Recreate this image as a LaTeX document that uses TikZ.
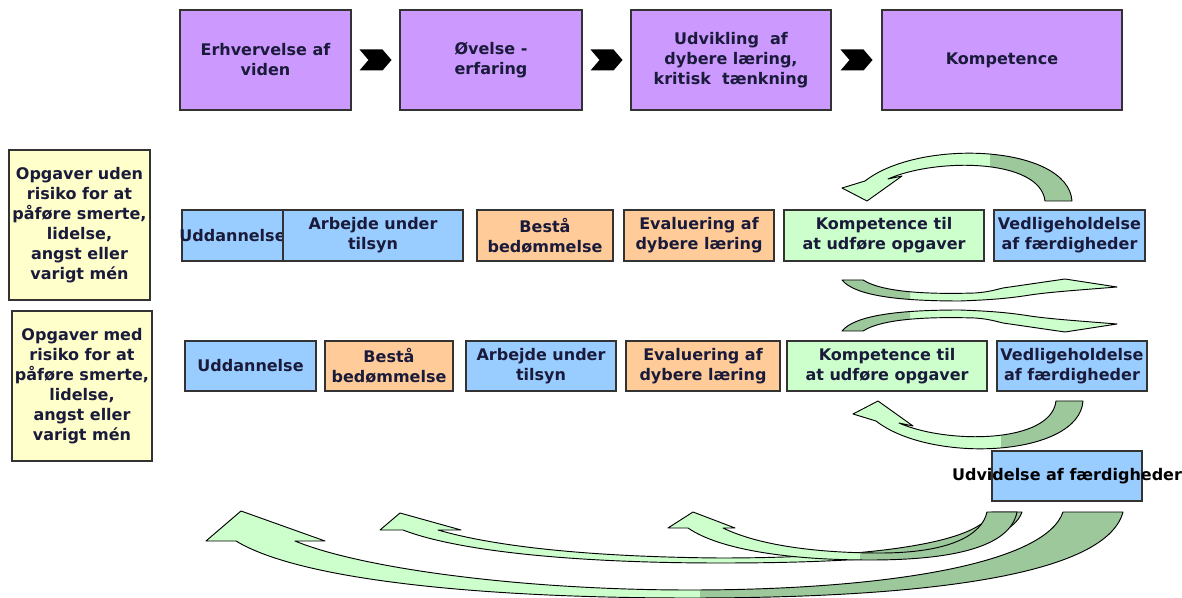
\documentclass[tikz,border=0pt]{standalone}
\usepackage{fontspec}
\setmainfont{DejaVu Sans}
\usetikzlibrary{calc}
\definecolor{purp}{HTML}{CC99FF}
\definecolor{yel}{HTML}{FFFFCC}
\definecolor{blu}{HTML}{99CCFF}
\definecolor{org}{HTML}{FFCC99}
\definecolor{grn}{HTML}{CCFFCC}
\definecolor{dgrn}{HTML}{9CC89C}
\definecolor{txtc}{HTML}{1A1A3A}
\definecolor{bord}{HTML}{333333}
\newcommand{\bxn}[7]{\node[box,#2,minimum width={(#5-#3)*0.75pt},minimum height={(#6-#4)*0.75pt}] (#1) at ({(#3+#5)/2},{(#4+#6)/2}) {#7};}
\tikzset{
  box/.style={draw=bord, line width=1pt, inner sep=0pt, align=center,
    font=\fontsize{12}{15}\selectfont\bfseries, text=txtc},
  arr/.style={draw=black, line width=0.7pt, line join=round},
  chev/.style={fill=black},
  pA1/.style={insert path={(1045,201) -- (1072,201)
     .. controls (1068,145) and (920,138) .. (865,181)
     -- (842,188) -- (867,201) -- (902,176) -- (888,179)
     .. controls (935,158) and (1040,158) .. (1045,201) -- cycle}},
  pA2/.style={insert path={(842,280) -- (863,280)
     .. controls (885,294) and (940,294) .. (975,293)
     .. controls (990,292) and (998,289) .. (1003,288)
     -- (1065,279) -- (1117,287)
     .. controls (1080,290) and (1050,292) .. (1030,295)
     .. controls (1005,299) and (985,300) .. (960,301)
     .. controls (900,301) and (855,296) .. (842,280) -- cycle}},
  pB1/.style={insert path={(236,541) -- (206,541) -- (241,511) -- (325,541) -- (295,541)
     .. controls (360,568) and (520,590) .. (690,590)
     .. controls (880,590) and (1045,565) .. (1063,512)
     -- (1123,512)
     .. controls (1105,580) and (900,598) .. (690,598)
     .. controls (480,598) and (300,580) .. (236,541) -- cycle}},
  pB2/.style={insert path={(403,530) -- (380,530) -- (400,513) -- (461,530) -- (438,530)
     .. controls (500,548) and (600,557) .. (720,558)
     .. controls (860,558) and (978,545) .. (992,512)
     -- (1022,512)
     .. controls (1008,555) and (860,563) .. (720,563)
     .. controls (580,563) and (460,552) .. (403,530) -- cycle}},
  pB3/.style={insert path={(688,528) -- (668,528) -- (693,512) -- (735,528) -- (723,528)
     .. controls (760,546) and (820,553) .. (880,553)
     .. controls (950,553) and (982,535) .. (987,512)
     -- (1017,512)
     .. controls (1010,548) and (950,560) .. (870,560)
     .. controls (790,560) and (720,550) .. (688,528) -- cycle}}
}
\begin{document}
\begin{tikzpicture}[x=0.75pt,y=-0.75pt]
\useasboundingbox (0,0) rectangle (1182,598);
\fill[white] (0,0) rectangle (1182,598);

% top row
\bxn{p1}{fill=purp}{180}{10}{351}{110}{Erhvervelse af\\viden}
\bxn{p2}{fill=purp}{400}{10}{582}{110}{Øvelse -\\erfaring}
\bxn{p3}{fill=purp}{631}{10}{831}{110}{Udvikling\ \ af\\dybere læring,\\kritisk\ \ tænkning}
\bxn{p4}{fill=purp}{882}{10}{1122}{110}{Kompetence}
\coordinate (c1) at ($(p1.east)!0.5!(p2.west)$);
\coordinate (c2) at ($(p2.east)!0.5!(p3.west)$);
\coordinate (c3) at ($(p3.east)!0.5!(p4.west)$);
\foreach \c in {c1,c2,c3}{
  \fill[chev] (\c) ++(-16,-10.5) -- ++(23,0) -- ++(9,10.5) -- ++(-9,10.5) -- ++(-23,0) -- ++(9,-10.5) -- cycle;
}

% left yellow boxes
\bxn{y1}{fill=yel}{9}{150}{150}{300}{Opgaver uden\\risiko for at\\påføre smerte,\\lidelse,\\angst eller\\varigt mén}
\bxn{y2}{fill=yel}{12}{311}{152}{461}{Opgaver med\\risiko for at\\påføre smerte,\\lidelse,\\angst eller\\varigt mén}

% row 1
\bxn{r1a}{fill=blu}{182}{210}{283}{261}{\makebox[0pt]{Uddannelse}}
\bxn{r1b}{fill=blu}{283}{210}{463}{261}{Arbejde under\\tilsyn}
\bxn{r1c}{fill=org}{477}{210}{613}{261}{Bestå\\bedømmelse}
\bxn{r1d}{fill=org}{624}{210}{774}{261}{Evaluering af\\dybere læring}
\bxn{r1e}{fill=grn}{784}{210}{984}{261}{Kompetence til\\at udføre opgaver}
\bxn{r1f}{fill=blu}{994}{210}{1145}{261}{Vedligeholdelse\\af færdigheder}

% row 2
\bxn{r2a}{fill=blu}{185}{341}{316}{391}{Uddannelse}
\bxn{r2b}{fill=org}{325}{341}{453}{391}{Bestå\\bedømmelse}
\bxn{r2c}{fill=blu}{466}{341}{616}{391}{Arbejde under\\tilsyn}
\bxn{r2d}{fill=org}{626}{341}{780}{391}{Evaluering af\\dybere læring}
\bxn{r2e}{fill=grn}{787}{341}{987}{391}{Kompetence til\\at udføre opgaver}
\bxn{r2f}{fill=blu}{997}{341}{1147}{391}{Vedligeholdelse\\af færdigheder}

% expansion box
\bxn{ud}{fill=blu}{992}{451}{1142}{501}{\makebox[0pt]{\color{black}Udvidelse af færdigheder}}

% curved arrows: A1 (top)
\fill[grn, pA1];
\begin{scope}\clip (990,0) rectangle (1182,300); \fill[dgrn, pA1]; \end{scope}
\draw[arr, pA1];
% A4 (below row 2) = mirrored A1
\begin{scope}[shift={(11,602)}, yscale=-1]
\fill[grn, pA1];
\begin{scope}\clip (990,0) rectangle (1182,300); \fill[dgrn, pA1]; \end{scope}
\draw[arr, pA1];
\end{scope}
% A2 (between rows, upper)
\fill[grn, pA2];
\begin{scope}\clip (800,250) rectangle (910,320); \fill[dgrn, pA2]; \end{scope}
\draw[arr, pA2];
% A3 mirrored A2
\begin{scope}[shift={(0,611)}, yscale=-1]
\fill[grn, pA2];
\begin{scope}\clip (800,250) rectangle (910,320); \fill[dgrn, pA2]; \end{scope}
\draw[arr, pA2];
\end{scope}
% bottom arrows
\fill[grn, pB1];
\begin{scope}\clip (700,500) rectangle (1182,598); \fill[dgrn, pB1]; \end{scope}
\draw[arr, pB1];
\fill[grn, pB2];
\begin{scope}\clip (860,500) rectangle (1182,598); \fill[dgrn, pB2]; \end{scope}
\draw[arr, pB2];
\fill[grn, pB3];
\begin{scope}\clip (860,500) rectangle (1182,598); \fill[dgrn, pB3]; \end{scope}
\draw[arr, pB3];
\end{tikzpicture}
\end{document}
